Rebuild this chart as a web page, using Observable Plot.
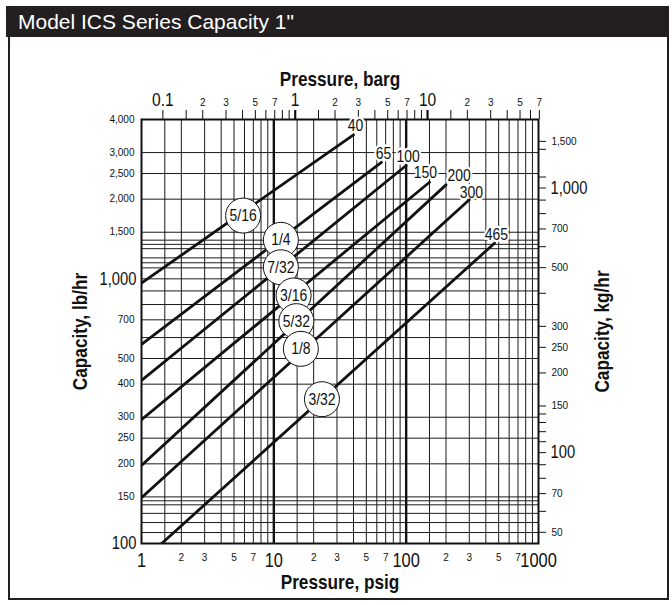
<!DOCTYPE html>
<html><head><meta charset="utf-8">
<script src="https://cdn.jsdelivr.net/npm/d3@7"></script>
<script src="https://cdn.jsdelivr.net/npm/@observablehq/plot@0.6"></script>
<style>
html,body{margin:0;padding:0;background:#fff;}
#wrap{position:relative;width:672px;height:605px;overflow:hidden;}
#box{position:absolute;left:8px;top:6px;width:661px;height:594px;border:2.5px solid #231f20;box-sizing:border-box;}
#title{position:absolute;left:6px;top:6px;width:663px;height:31px;background:#231f20;color:#fff;font:21px "Liberation Sans",Arial,sans-serif;line-height:32px;padding-left:12px;box-sizing:border-box;}
#chart{position:absolute;left:0;top:0;}
</style></head>
<body><div id="wrap"><div id="box"></div><div id="chart"></div><div id="title">Model ICS Series Capacity 1"</div></div>
<script>
const PSI_PER_BAR = 14.5038;
const LB_PER_KG = 2.20462;

// orifice sizes, their straight capacity lines (start / end at max pressure)
const sizes = ["5/16","1/4","7/32","3/16","5/32","1/8","3/32"];
const startPsig = [1,1,1,1,1,1,1.42];
const startCap = [964,565,413,294,197,149,100];
const maxPsig = [40,65,100,150,200,300,465];
const maxCap = [3500,2757,2680,2318,2265,1990,1363];
// where each size's circled label sits on its line
const circlePsig = [5.86,11.3,11.3,14.1,14.8,16.0,23.1];
const circleCap = [1734,1404,1106,865,692,544,351];

// grid and ticks
const psigGrid = [1.5,2,3,4,5,6,7,8,9,15,20,30,40,50,60,70,80,90,150,200,300,400,500,600,700,800,900];
const psigHeavy = [10,100];
const lbGrid = [110,120,130,140,145,150,200,250,300,400,500,600,700,800,900,1000,1100,1150,1200,1300,1350,1400,1500,2000,2500,3000];
const bargTicks = [0.1,0.15,0.2,0.3,0.4,0.5,0.6,0.7,0.8,0.9,1,1.5,2,3,4,5,6,7,8,9,10,15,20,30,40,50,60,70];
const bargHeavy = [1,10];
const kgTicks = [50,60,70,80,90,100,110,120,130,140,150,200,250,300,400,500,600,700,800,900,1000,1100,1400,1500];

// tick labels
const psigLabelsBig = [1,10,100,1000];
const psigLabelsSmall = [2,3,5,7,20,30,50,70,200,300,500,700];
const bargLabelsBig = [0.1,1,10];
const bargLabelsSmall = [0.2,0.3,0.5,0.7,2,3,5,7,20,30,50,70];
const lbLabelsBig = [100,1000];
const lbLabelsSmall = [150,200,250,300,400,500,700,1500,2000,2500,3000,4000];
const kgLabelsBig = [100,1000];
const kgLabelsSmall = [50,70,150,200,250,300,500,700,1500];

// "narrowmark" is a marker family: those texts get squeezed to a condensed width
const NARROW = '"Liberation Sans",narrowmark,Arial,sans-serif';
const REG = '"Liberation Sans",Arial,sans-serif';
const FH = 424, FW = 397;

const lineRows = sizes.flatMap((s,i)=>[{size:s,p:startPsig[i],c:startCap[i]},{size:s,p:maxPsig[i],c:maxCap[i]}]);
const ends = sizes.map((s,i)=>({size:s,p:maxPsig[i],c:maxCap[i]}));
const circles = sizes.map((s,i)=>({size:s,p:circlePsig[i],c:circleCap[i]}));
const lead = d => String(Math.round(d / 10 ** Math.floor(Math.log10(d) + 1e-9)));
const comma = d3.format(",");

const labelOpts = {x:"p", y:"c", text: d=>String(d.p), fill:"#111", stroke:"white", strokeWidth:5, fontSize:17, fontFamily:NARROW};

const chart = Plot.plot({
  width: 672, height: 605,
  marginLeft: 141, marginRight: 134, marginTop: 119, marginBottom: 62,
  style: {background:"transparent", fontFamily: REG, color:"#111"},
  x: {type:"log", domain:[1,1000], axis:null},
  y: {type:"log", domain:[100,4000], axis:null},
  marks: [
    Plot.ruleY(lbGrid, {y:d=>d, stroke:"#1a1a1a", strokeWidth:1}),
    Plot.ruleX(psigGrid, {x:d=>d, stroke:"#1a1a1a", strokeWidth:1}),
    Plot.ruleX(psigHeavy, {x:d=>d, stroke:"#111", strokeWidth:2.4}),
    Plot.frame({stroke:"#111", strokeWidth:2}),
    Plot.ruleX(bargTicks, {x:d=>d*PSI_PER_BAR, insetTop:-9, insetBottom:FH, stroke:"#111", strokeWidth:d=>bargHeavy.includes(d)?2.2:1}),
    Plot.ruleY(kgTicks, {y:d=>d*LB_PER_KG, insetLeft:FW, insetRight:-8, stroke:"#111", strokeWidth:1}),
    Plot.text(ends.filter(d=>d.p!==150 && d.p!==200 && d.p!==300), {...labelOpts, dx:2, dy:-9}),
    Plot.text(ends.filter(d=>d.p===150), {...labelOpts, dx:-4, dy:-10}),
    Plot.text(ends.filter(d=>d.p===200), {...labelOpts, dx:13, dy:-9}),
    Plot.text(ends.filter(d=>d.p===300), {...labelOpts, dx:2, dy:-7}),
    Plot.line(lineRows, {x:"p", y:"c", z:"size", stroke:"#111", strokeWidth:2.8, clip:true}),
    Plot.dot(circles, {x:"p", y:"c", r:17.5, fill:"white", stroke:"#111", strokeWidth:1}),
    Plot.text(circles, {x:"p", y:"c", text:"size", fontSize:17, fontFamily:NARROW, fill:"#111"}),
    // bottom axis (psig)
    Plot.text(psigLabelsBig, {x:d=>d, text:d=>String(d), frameAnchor:"bottom", lineAnchor:"top", dy:9, fontSize:20, fontFamily:NARROW}),
    Plot.text(psigLabelsSmall, {x:d=>d, text:lead, frameAnchor:"bottom", lineAnchor:"top", dy:10, fontSize:10, fontFamily:REG}),
    // top axis (barg)
    Plot.text(bargLabelsBig, {x:d=>d*PSI_PER_BAR, text:d=>String(d), frameAnchor:"top", lineAnchor:"bottom", dy:-14, fontSize:19, fontFamily:NARROW}),
    Plot.text(bargLabelsSmall, {x:d=>d*PSI_PER_BAR, text:lead, frameAnchor:"top", lineAnchor:"bottom", dy:-14, fontSize:10, fontFamily:REG}),
    // left axis (lb/hr)
    Plot.text(lbLabelsSmall, {y:d=>d, text:comma, frameAnchor:"left", textAnchor:"end", dx:-7, fontSize:10, fontFamily:REG}),
    Plot.text(lbLabelsBig, {y:d=>d, text:comma, frameAnchor:"left", textAnchor:"end", dx:-5, fontSize:18, fontFamily:NARROW}),
    // right axis (kg/hr)
    Plot.text(kgLabelsSmall, {y:d=>d*LB_PER_KG, text:comma, frameAnchor:"right", textAnchor:"start", dx:13, fontSize:10, fontFamily:REG}),
    Plot.text(kgLabelsBig, {y:d=>d*LB_PER_KG, text:comma, frameAnchor:"right", textAnchor:"start", dx:12, fontSize:18, fontFamily:NARROW}),
    // axis titles
    Plot.text(["Pressure, barg"], {frameAnchor:"top", dy:-48, fontSize:21, fontWeight:"bold", fontFamily:NARROW}),
    Plot.text(["Pressure, psig"], {frameAnchor:"bottom", dy:45, fontSize:21, fontWeight:"bold", fontFamily:NARROW}),
    Plot.text(["Capacity, lb/hr"], {frameAnchor:"left", textAnchor:"middle", dx:-61, rotate:-90, fontSize:21, fontWeight:"bold", fontFamily:NARROW}),
    Plot.text(["Capacity, kg/hr"], {frameAnchor:"right", textAnchor:"middle", dx:64, rotate:-90, fontSize:21, fontWeight:"bold", fontFamily:NARROW})
  ]
});
document.getElementById("chart").appendChild(chart);
// condensed look: squeeze the marked texts horizontally
chart.querySelectorAll('g[font-family*="narrowmark"] text').forEach(t => {
  const L = t.getComputedTextLength();
  if (L > 0) {
    t.setAttribute("textLength", (L * 0.82).toFixed(2));
    t.setAttribute("lengthAdjust", "spacingAndGlyphs");
  }
});
</script></body></html>
